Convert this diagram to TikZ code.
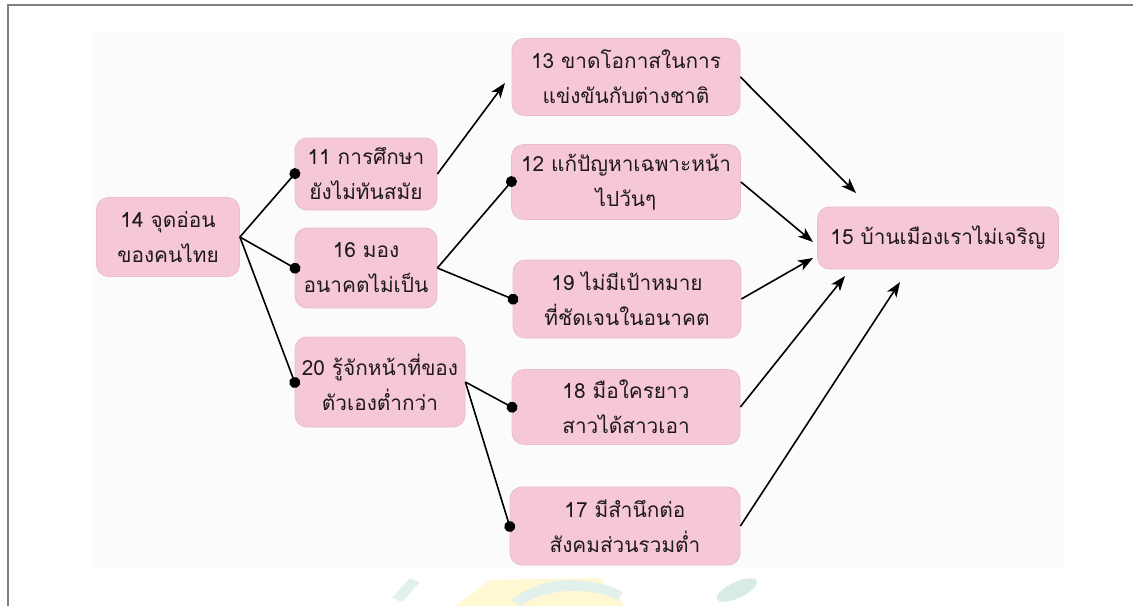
\documentclass[tikz,border=0pt]{standalone}
\usepackage{fontspec}
\newfontfamily\thaifont[Script=Thai]{Loma}
\usetikzlibrary{arrows.meta}
\definecolor{boxpink}{RGB}{246,200,214}
\definecolor{boxedge}{RGB}{232,190,204}
\definecolor{txt}{RGB}{30,26,28}
\definecolor{framegray}{RGB}{128,128,128}
\definecolor{bgpanel}{RGB}{251,251,251}
\definecolor{wmyellow}{RGB}{255,248,210}
\definecolor{wmteal}{RGB}{226,241,236}
\definecolor{wmgreen}{RGB}{216,236,228}
\begin{document}
\begin{tikzpicture}[x=1pt,y=-1pt,
  box/.style={draw=boxedge, line width=0.8pt, fill=boxpink, rounded corners=12pt,
    align=center, font=\thaifont\fontsize{20.8}{35}\selectfont, text=txt, inner sep=0pt},
  link/.style={line width=1.6pt, shorten >=-6pt, -{Circle[length=11pt]}},
  flow/.style={line width=1.6pt, -{Stealth[length=15pt,width=11pt,inset=4pt]}}]
\useasboundingbox (0,0) rectangle (1133,606);
% frame and panel
\fill[white] (0,0) rectangle (1133,606);
\fill[bgpanel] (91,33) rectangle (1065,569);
\draw[framegray, line width=2pt] (8,606) -- (8,5) -- (1133,5);
% faint watermark
\fill[wmyellow] (455,606) -- (490,580) -- (600,578) -- (625,606) -- cycle;
\fill[wmteal] (512,600) .. controls (540,575) and (590,575) .. (623,592) -- (618,600) .. controls (590,586) and (545,588) .. (520,606) -- cycle;
\fill[wmteal] (392,598) -- (410,578) -- (420,582) -- (402,602) -- cycle;
\fill[wmgreen, rotate around={25:(737,590)}] (737,590) ellipse (22 and 8);
% nodes
\node[box, minimum width=143, minimum height=79] (n14) at (168,237) {14 จุดอ่อน\\ของคนไทย};
\node[box, minimum width=142, minimum height=72] (n11) at (366,174) {11 การศึกษา\\ยังไม่ทันสมัย};
\node[box, minimum width=142, minimum height=80] (n16) at (366,268) {16 มอง\\อนาคตไม่เป็น};
\node[box, minimum width=170, minimum height=90] (n20) at (380,382) {20 รู้จักหน้าที่ของ\\ตัวเองต่ำกว่า};
\node[box, minimum width=228, minimum height=77] (n13) at (626,77) {13 ขาดโอกาสในการ\\แข่งขันกับต่างชาติ};
\node[box, minimum width=229, minimum height=75] (n12) at (626,182) {12 แก้ปัญหาเฉพาะหน้า\\ไปวันๆ};
\node[box, minimum width=228, minimum height=78] (n19) at (627,299) {19 ไม่มีเป้าหมาย\\ที่ชัดเจนในอนาคต};
\node[box, minimum width=228, minimum height=75] (n18) at (626,407) {18 มือใครยาว\\สาวได้สาวเอา};
\node[box, minimum width=230, minimum height=78] (n17) at (625,526) {17 มีสำนึกต่อ\\สังคมส่วนรวมต่ำ};
\node[box, minimum width=241, minimum height=62] (n15) at (938,238) {15 บ้านเมืองเราไม่เจริญ};
% arrow ends near 15 and 13
\coordinate (a13) at (505,83);
\coordinate (t13) at (856,193);
\coordinate (t12) at (813,242);
\coordinate (t19) at (813,258);
\coordinate (t18) at (845,276);
\coordinate (t17) at (900,282);
% connectors
\draw[link] (n14.east) -- (n11.west);
\draw[link] (n14.east) -- (n16.west);
\draw[link] (n14.east) -- (n20.west);
\draw[flow] (n11.east) -- (a13);
\draw[link] (n16.east) -- (n12.west);
\draw[link] (n16.east) -- (n19.west);
\draw[link] (n20.east) -- (n18.west);
\draw[link] (n20.east) -- (n17.west);
\draw[flow] (n13.east) -- (t13);
\draw[flow] (n12.east) -- (t12);
\draw[flow] (n19.east) -- (t19);
\draw[flow] (n18.east) -- (t18);
\draw[flow] (n17.east) -- (t17);
\end{tikzpicture}
\end{document}
